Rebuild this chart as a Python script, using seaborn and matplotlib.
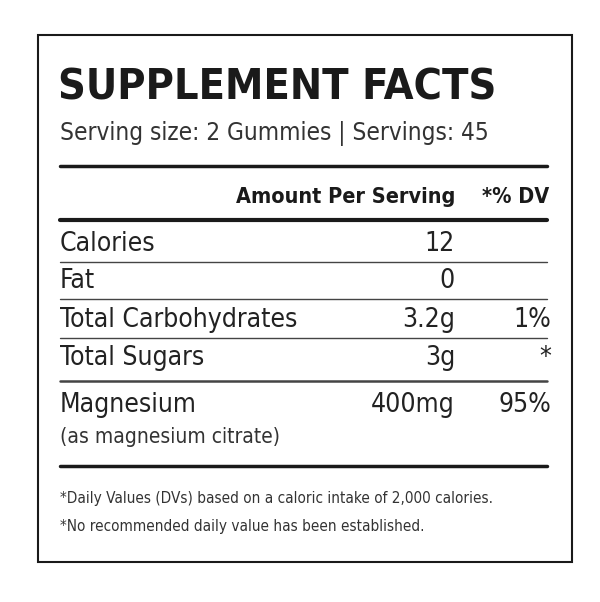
import matplotlib
matplotlib.use("Agg")
import matplotlib.pyplot as plt
import seaborn as sns

sns.set_theme(style="white")
plt.rcParams['font.family'] = ['DejaVu Sans']
plt.rcParams['font.stretch'] = 'condensed'

title = "SUPPLEMENT FACTS"
subtitle = "Serving size: 2 Gummies | Servings: 45"
header_amount = "Amount Per Serving"
header_dv = "*% DV"
nutrients = ["Calories", "Fat", "Total Carbohydrates", "Total Sugars", "Magnesium"]
amounts = ["12", "0", "3.2g", "3g", "400mg"]
dvs = ["", "", "1%", "*", "95%"]
sub_note = "(as magnesium citrate)"
footnotes = ["*Daily Values (DVs) based on a caloric intake of 2,000 calories.",
             "*No recommended daily value has been established."]

fig = plt.figure(figsize=(6, 6.02), dpi=100)
ax = fig.add_axes([0, 0, 1, 1])
ax.set_xlim(0, 600); ax.set_ylim(602, 0); ax.axis('off')
c = '#1a1a1a'
kw = dict(fontstretch='condensed')
ax.add_patch(plt.Rectangle((38, 35), 534, 527, fill=False, ec=c, lw=1.5))
ax.text(58, 88, title, fontsize=31, fontweight='bold', va='center', color=c, **kw)
ax.text(60, 133, subtitle, fontsize=17.5, va='center', color='#333', **kw)
ax.plot([60, 547], [166, 166], color=c, lw=2.5)
ax.text(455, 197, header_amount, fontsize=15.5, fontweight='bold', ha='right', va='center', color=c, **kw)
ax.text(549, 197, header_dv, fontsize=15.5, fontweight='bold', ha='right', va='center', color=c, **kw)
ax.plot([60, 547], [220, 220], color=c, lw=3)
ys = [244, 281, 320, 358, 405]
lines = [262, 299, 338, 381]
for n, a, d, y in zip(nutrients, amounts, dvs, ys):
    ax.text(60, y, n, fontsize=19, va='center', color='#222', **kw)
    ax.text(455, y, a, fontsize=19, ha='right', va='center', color='#222', **kw)
    if d:
        ax.text(551, y, d, fontsize=19, ha='right', va='center', color='#222', **kw)
for i, ly in enumerate(lines):
    ax.plot([60, 547], [ly, ly], color='#444', lw=1.8 if i == 3 else 1)
ax.text(60, 437, sub_note, fontsize=15, va='center', color='#333', **kw)
ax.plot([60, 547], [466, 466], color=c, lw=2.5)
ax.text(60, 498, footnotes[0], fontsize=11, va='center', color='#333', **kw)
ax.text(60, 526, footnotes[1], fontsize=11, va='center', color='#333', **kw)
fig.savefig("out.png", dpi=100, facecolor='white')
